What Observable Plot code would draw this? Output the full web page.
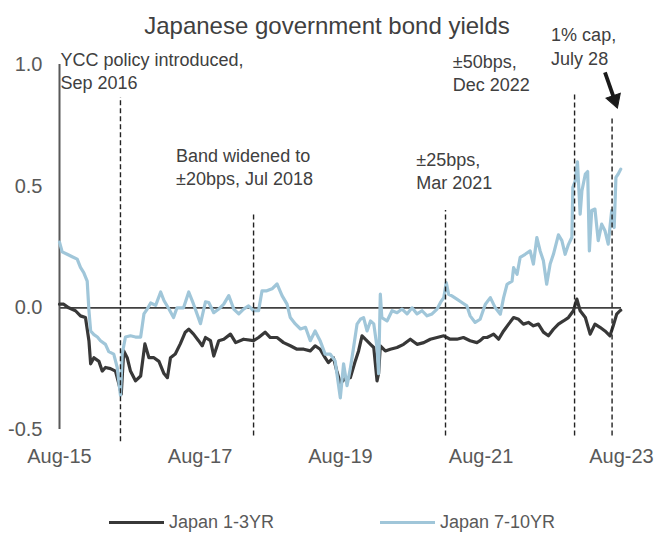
<!DOCTYPE html>
<html>
<head>
<meta charset="utf-8">
<script src="https://cdn.jsdelivr.net/npm/d3@7"></script>
<script src="https://cdn.jsdelivr.net/npm/@observablehq/plot@0.6"></script>
<style>
  body { margin: 0; background: #fff; font-family: "Liberation Sans", Arial, sans-serif; }
  #wrap { position: relative; width: 654px; height: 535px; overflow: hidden; }
  #title { position: absolute; left: 0; top: 12px; width: 654px; text-align: center;
           font-size: 24px; line-height: 28px; color: #404040; }
  #legend { position: absolute; left: 0; top: 512px; width: 654px; height: 20px;
            font-size: 18px; color: #595959; }
  .item { position: absolute; top: 0; height: 20px; display: flex; align-items: center; white-space: nowrap; }
  .sw { width: 55px; height: 3px; margin-right: 5px; }
</style>
</head>
<body>
<div id="wrap">
  <div id="chart"></div>
  <div id="title">Japanese government bond yields</div>
  <div id="legend"></div>
</div>
<script>
// ---------------- data ----------------
const seriesNames = ["Japan 1-3YR", "Japan 7-10YR"];
const seriesColors = ["#383838", "#a0c6d9"];

const shortDates = ["2015-08-01","2015-08-23","2015-09-18","2015-10-23","2015-11-18","2015-12-14","2016-01-01","2016-01-10","2016-01-27","2016-02-22","2016-03-10","2016-03-27","2016-04-22","2016-05-18","2016-06-04","2016-06-17","2016-06-30","2016-07-18","2016-08-04","2016-08-30","2016-09-26","2016-10-18","2016-11-08","2016-12-04","2016-12-30","2017-01-25","2017-02-12","2017-02-28","2017-03-25","2017-04-20","2017-05-16","2017-06-03","2017-06-28","2017-07-24","2017-08-12","2017-08-29","2017-09-24","2017-10-11","2017-11-06","2017-12-02","2018-01-06","2018-02-02","2018-03-15","2018-05-06","2018-06-01","2018-07-05","2018-08-01","2018-09-05","2018-10-09","2018-11-13","2018-12-18","2019-01-22","2019-02-25","2019-03-22","2019-04-17","2019-05-13","2019-05-30","2019-06-25","2019-07-13","2019-07-31","2019-08-26","2019-09-21","2019-10-17","2019-11-03","2019-11-21","2019-12-08","2020-01-04","2020-01-21","2020-02-07","2020-02-15","2020-02-24","2020-03-21","2020-04-16","2020-05-21","2020-06-24","2020-07-29","2020-09-02","2020-10-07","2020-11-10","2020-12-15","2021-01-19","2021-02-21","2021-03-28","2021-05-01","2021-06-05","2021-07-10","2021-07-27","2021-08-14","2021-09-01","2021-09-18","2021-10-05","2021-10-31","2021-11-26","2021-12-22","2022-01-17","2022-02-12","2022-03-09","2022-04-04","2022-04-30","2022-05-26","2022-06-21","2022-07-17","2022-08-12","2022-09-07","2022-10-03","2022-10-29","2022-11-24","2022-12-12","2022-12-29","2023-01-25","2023-02-19","2023-03-16","2023-04-11","2023-05-07","2023-06-02","2023-06-19","2023-07-07","2023-07-24","2023-07-28"];
const shortValues = [0.015,0.015,0.0,-0.012,-0.033,-0.04,-0.135,-0.23,-0.205,-0.22,-0.26,-0.245,-0.25,-0.26,-0.31,-0.355,-0.177,-0.205,-0.26,-0.30,-0.28,-0.148,-0.205,-0.205,-0.22,-0.27,-0.287,-0.205,-0.19,-0.148,-0.10,-0.088,-0.108,-0.135,-0.156,-0.122,-0.135,-0.198,-0.135,-0.129,-0.108,-0.143,-0.129,-0.135,-0.122,-0.10,-0.122,-0.122,-0.143,-0.156,-0.17,-0.17,-0.177,-0.156,-0.17,-0.205,-0.225,-0.205,-0.26,-0.31,-0.29,-0.287,-0.218,-0.177,-0.115,-0.129,-0.15,-0.163,-0.30,-0.27,-0.156,-0.177,-0.17,-0.163,-0.15,-0.129,-0.15,-0.143,-0.129,-0.122,-0.115,-0.129,-0.129,-0.122,-0.135,-0.143,-0.135,-0.122,-0.122,-0.115,-0.108,-0.129,-0.095,-0.067,-0.04,-0.047,-0.067,-0.06,-0.074,-0.067,-0.10,-0.115,-0.088,-0.067,-0.054,-0.04,-0.012,0.036,-0.012,-0.04,-0.108,-0.067,-0.08,-0.095,-0.115,-0.074,-0.026,-0.012,-0.01];

const longDates = ["2015-08-01","2015-08-15","2015-09-10","2015-10-06","2015-11-01","2015-11-18","2015-12-05","2015-12-23","2016-01-01","2016-01-10","2016-01-27","2016-02-14","2016-03-01","2016-03-27","2016-04-13","2016-05-09","2016-05-27","2016-06-13","2016-06-22","2016-07-09","2016-08-04","2016-08-30","2016-09-26","2016-10-13","2016-10-30","2016-11-17","2016-12-13","2017-01-08","2017-01-25","2017-02-20","2017-03-16","2017-04-03","2017-05-07","2017-06-03","2017-06-28","2017-08-03","2017-08-29","2017-09-15","2017-10-11","2017-11-06","2017-12-02","2017-12-28","2018-01-23","2018-02-18","2018-03-15","2018-04-10","2018-05-06","2018-06-01","2018-06-19","2018-07-14","2018-08-10","2018-09-05","2018-10-01","2018-10-27","2018-11-13","2018-12-09","2019-01-05","2019-01-31","2019-02-25","2019-03-22","2019-04-17","2019-05-13","2019-06-08","2019-07-04","2019-07-31","2019-08-17","2019-09-04","2019-09-21","2019-10-08","2019-10-26","2019-11-12","2019-11-29","2019-12-17","2020-01-04","2020-01-21","2020-02-07","2020-02-15","2020-02-24","2020-03-03","2020-03-30","2020-04-25","2020-05-21","2020-06-16","2020-07-12","2020-08-07","2020-09-02","2020-09-28","2020-10-24","2020-11-19","2020-12-15","2021-01-02","2021-01-19","2021-02-01","2021-02-13","2021-03-02","2021-03-28","2021-04-23","2021-05-19","2021-06-05","2021-07-01","2021-07-27","2021-08-23","2021-09-18","2021-10-14","2021-11-09","2021-11-26","2021-12-14","2022-01-09","2022-01-17","2022-02-04","2022-02-20","2022-03-18","2022-04-13","2022-04-30","2022-05-18","2022-06-04","2022-06-21","2022-07-08","2022-07-26","2022-08-12","2022-09-07","2022-09-25","2022-10-12","2022-10-29","2022-11-16","2022-11-21","2022-12-03","2022-12-15","2022-12-29","2023-01-07","2023-01-25","2023-02-06","2023-02-15","2023-02-27","2023-03-16","2023-04-02","2023-04-20","2023-05-07","2023-05-24","2023-06-11","2023-06-24","2023-07-03","2023-07-15","2023-07-28"];
const longValues = [0.27,0.23,0.22,0.21,0.20,0.166,0.145,0.11,-0.01,-0.095,-0.11,-0.12,-0.135,-0.15,-0.18,-0.19,-0.245,-0.36,-0.19,-0.12,-0.115,-0.12,-0.12,-0.025,-0.005,0.02,0.01,0.065,0.03,-0.005,-0.04,0.0,0.0,0.065,0.015,-0.065,0.025,0.022,-0.02,-0.005,0.015,0.05,-0.005,-0.025,-0.005,0.008,-0.012,-0.012,0.07,0.07,0.078,0.098,0.05,0.015,-0.04,-0.066,-0.087,-0.08,-0.135,-0.095,-0.135,-0.19,-0.19,-0.218,-0.37,-0.23,-0.32,-0.25,-0.163,-0.067,-0.047,-0.04,-0.095,-0.054,-0.066,-0.163,-0.27,0.056,-0.04,-0.054,-0.012,-0.02,-0.005,-0.025,0.0,-0.025,-0.012,-0.033,-0.025,-0.005,0.022,0.042,0.104,0.056,0.049,0.036,0.022,0.008,-0.033,-0.06,-0.047,0.015,0.042,0.0,-0.026,0.042,0.097,0.11,0.165,0.138,0.207,0.22,0.234,0.18,0.289,0.234,0.193,0.097,0.18,0.22,0.30,0.276,0.22,0.26,0.29,0.495,0.52,0.60,0.385,0.48,0.55,0.56,0.234,0.40,0.406,0.276,0.344,0.317,0.262,0.40,0.33,0.536,0.55,0.57];

// axis
const xDomain = ["2015-08-01", "2023-08-01"];
const xTicks = ["2015-08-01", "2017-08-01", "2019-08-01", "2021-08-01", "2023-08-01"];
const yDomain = [-0.5, 1.0];
const yTicks = [-0.5, 0.0, 0.5, 1.0];

// policy events (dashed lines), drawn where they sit in the reference
const eventDates = ["2016-06-13", "2018-05-06", "2021-01-28", "2022-11-30", "2023-06-13"];
const eventTop = [0.864, 0.39, 0.40, 0.88, 0.78];
const eventBottom = [-0.55, -0.527, -0.527, -0.527, -0.527];

// annotations
const noteTexts = ["YCC policy introduced,\nSep 2016", "Band widened to\n±20bps, Jul 2018", "±25bps,\nMar 2021", "±50bps,\nDec 2022", "1% cap,\nJuly 28"];
const noteDates = ["2015-08-06", "2017-03-29", "2020-08-29", "2021-03-07", "2022-07-31"];
const noteValues = [0.901, 0.503, 0.490, 0.893, 1.0];

// arrow pointing at the July 28 line: shaft start, head centre, head rotation (deg)
const arrowFrom = ["2023-05-07", 0.968];
const arrowHead = ["2023-06-26", 0.855];
const arrowAngle = 161;

// ---------------- build tables ----------------
const parse = s => new Date(s + "T00:00:00Z");
const shortRows = shortDates.map((d, i) => ({date: parse(d), value: shortValues[i]}));
const longRows = longDates.map((d, i) => ({date: parse(d), value: longValues[i]}));
const events = eventDates.map((d, i) => ({date: parse(d), top: eventTop[i], bottom: eventBottom[i]}));
const notes = noteTexts.map((t, i) => ({text: t, date: parse(noteDates[i]), value: noteValues[i]}));
const arrows = [{x1: parse(arrowFrom[0]), y1: arrowFrom[1], x2: parse(arrowHead[0]), y2: arrowHead[1]}];
const x0 = parse(xDomain[0]);

const chart = Plot.plot({
  width: 654,
  height: 474,
  marginLeft: 59,
  marginRight: 33,
  marginTop: 64,
  marginBottom: 45,
  style: {fontFamily: "'Liberation Sans', Arial, sans-serif", fontSize: "20px", color: "#595959", background: "#fff", overflow: "visible"},
  x: {type: "utc", domain: xDomain.map(parse)},
  y: {domain: yDomain},
  marks: [
    Plot.axisX({ticks: xTicks.map(parse), tickFormat: d3.utcFormat("%b-%y"), tickSize: 0, tickPadding: 19, fontSize: 20, fill: "#595959"}),
    Plot.axisY({ticks: yTicks, tickFormat: d => d.toFixed(1), tickSize: 0, tickPadding: 17, fontSize: 20, fill: "#595959"}),
    Plot.ruleY([0], {stroke: "#404040", strokeWidth: 1.8}),
    Plot.ruleX([x0], {y1: yDomain[0], y2: yDomain[1], stroke: "#595959", strokeWidth: 2}),
    Plot.line(shortRows, {x: "date", y: "value", stroke: seriesColors[0], strokeWidth: 3.2}),
    Plot.line(longRows, {x: "date", y: "value", stroke: seriesColors[1], strokeWidth: 3.2}),
    Plot.ruleX(events, {x: "date", y1: "bottom", y2: "top", stroke: "#222", strokeWidth: 1.4, strokeDasharray: "5,3"}),
    Plot.text(notes, {x: "date", y: "value", text: "text", textAnchor: "start", lineAnchor: "bottom", lineHeight: 1.28, fontSize: 18, fill: "#404040"}),
    Plot.link(arrows, {x1: "x1", y1: "y1", x2: "x2", y2: "y2", stroke: "#1a1a1a", strokeWidth: 3.8}),
    Plot.dot(arrows, {x: "x2", y: "y2", symbol: "triangle", r: 5.6, fill: "#1a1a1a", stroke: "#1a1a1a", strokeWidth: 1, rotate: arrowAngle})
  ]
});
document.getElementById("chart").appendChild(chart);

// legend
const legend = document.getElementById("legend");
const legendLeft = [109, 380];
seriesNames.forEach((name, i) => {
  const item = document.createElement("div");
  item.className = "item";
  item.style.left = legendLeft[i] + "px";
  const sw = document.createElement("span");
  sw.className = "sw";
  sw.style.background = seriesColors[i];
  const label = document.createElement("span");
  label.textContent = name;
  item.appendChild(sw);
  item.appendChild(label);
  legend.appendChild(item);
});
</script>
</body>
</html>
